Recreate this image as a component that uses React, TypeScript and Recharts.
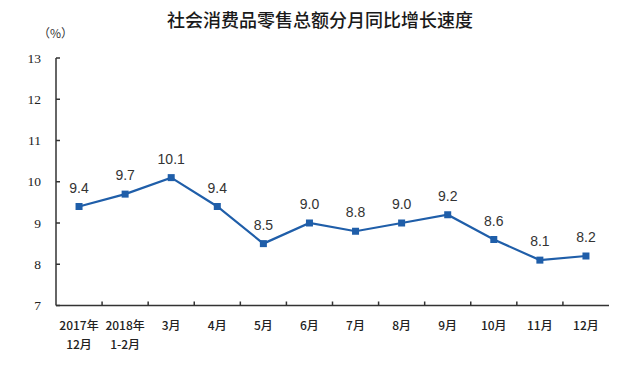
import React from 'react';
import { LabelList, Line, LineChart, XAxis, YAxis } from 'recharts';

const months = ['2017年\n12月', '2018年\n1-2月', '3月', '4月', '5月', '6月', '7月', '8月', '9月', '10月', '11月', '12月'];
const growth = [9.4, 9.7, 10.1, 9.4, 8.5, 9.0, 8.8, 9.0, 9.2, 8.6, 8.1, 8.2];
const yTicks = [7, 8, 9, 10, 11, 12, 13];

const data = months.map((m, i) => ({ month: m, value: growth[i] }));

const W = 640;
const H = 370;
const LEFT = 56;
const RIGHT = 31;
const PLOT_W = W - LEFT - RIGHT;
const STEP = PLOT_W / months.length;
const BLUE = '#1f5ea9';

const SquareDot = (props: any) => {
  const { cx, cy } = props;
  if (cx == null || cy == null) return null;
  return <rect x={cx - 3.5} y={cy - 3.5} width={7} height={7} fill={BLUE} />;
};

const MonthTick = (props: any) => {
  const { x, y, payload, index } = props;
  const lines = String(payload.value).split('\n');
  return (
    <g>
      {index < months.length - 1 && (
        <line x1={x + STEP / 2} x2={x + STEP / 2} y1={y} y2={y - 4} stroke="#333" strokeWidth={1.5} />
      )}
      {lines.map((t, i) => (
        <text
          key={t}
          x={x}
          y={y + 24 + i * 19}
          textAnchor="middle"
          fontSize={12}
          fontWeight={500}
          fill="#222"
          fontFamily="'Noto Sans CJK SC', sans-serif"
        >
          {t}
        </text>
      ))}
    </g>
  );
};

const ValueTick = (props: any) => {
  const { x, y, payload } = props;
  return (
    <g>
      <line x1={x} x2={x + 4} y1={y} y2={y} stroke="#333" strokeWidth={1.5} />
      <text
        x={x - 15}
        y={y + 4.5}
        textAnchor="end"
        fontSize={13.5}
        fill="#222"
        fontFamily="'Liberation Serif', serif"
      >
        {payload.value}
      </text>
    </g>
  );
};

export default function App() {
  return (
    <div style={{ position: 'absolute', left: 0, top: 0, width: W, height: H, background: '#fff' }}>
      <div
        style={{
          position: 'absolute', left: 0, top: 6, width: W, textAlign: 'center',
          fontFamily: "'Noto Sans CJK SC', sans-serif", fontSize: 18, fontWeight: 500, color: '#1a1a1a',
        }}
      >
        社会消费品零售总额分月同比增长速度
      </div>
      <div
        style={{
          position: 'absolute', left: 38, top: 24,
          fontFamily: "'Noto Sans CJK SC', sans-serif", fontSize: 12, color: '#333',
        }}
      >
        （%）
      </div>
      <LineChart
        width={W}
        height={H}
        data={data}
        margin={{ top: 58, right: RIGHT, left: 0, bottom: 14.5 }}
      >
        <XAxis
          dataKey="month"
          interval={0}
          height={50}
          padding={{ left: STEP / 2, right: STEP / 2 }}
          axisLine={{ stroke: '#333', strokeWidth: 1.5 }}
          tickLine={false}
          tickSize={0}
          tickMargin={0}
          tick={<MonthTick />}
        />
        <XAxis
          xAxisId="top"
          dataKey="month"
          orientation="top"
          height={0}
          tick={false}
          tickLine={false}
          axisLine={{ stroke: '#a0a0a0', strokeWidth: 1.5 }}
        />
        <YAxis
          domain={[7, 13]}
          ticks={yTicks}
          width={LEFT}
          interval={0}
          axisLine={{ stroke: '#333', strokeWidth: 1.5 }}
          tickLine={false}
          tickSize={0}
          tickMargin={0}
          tick={<ValueTick />}
        />
        <YAxis
          yAxisId="right"
          orientation="right"
          domain={[7, 13]}
          width={0}
          tick={false}
          tickLine={false}
          axisLine={{ stroke: '#a0a0a0', strokeWidth: 1.5 }}
        />
        <Line
          type="linear"
          dataKey="value"
          stroke={BLUE}
          strokeWidth={2.2}
          dot={<SquareDot />}
          activeDot={false}
          isAnimationActive={false}
        >
          <LabelList
            dataKey="value"
            position="top"
            offset={14}
            formatter={(v: any) => Number(v).toFixed(1)}
            style={{ fontFamily: "'Liberation Sans', Arial, sans-serif", fontSize: 14, fill: '#333' }}
          />
        </Line>
      </LineChart>
    </div>
  );
}
